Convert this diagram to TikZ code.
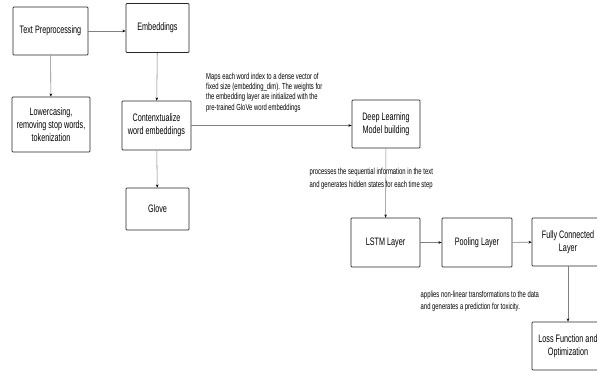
\documentclass[tikz,border=0pt]{standalone}
\usepackage{fontspec}
\setmainfont{Liberation Sans}[FakeStretch=0.67]
\usetikzlibrary{arrows.meta}
\begin{document}
\begin{tikzpicture}[x=1pt,y=-1pt,
  box/.style={draw=black!85,line width=0.75pt,rounded corners=0.8pt,align=center,inner sep=1pt,font=\fontsize{10.8}{13}\selectfont},
  conn/.style={draw=black!50,line width=0.55pt,-{Stealth[length=3.2pt,width=2.6pt,color=black]}},
  lbl/.style={align=left,inner sep=0pt,anchor=west}]
\useasboundingbox (0,0) rectangle (597,370);
\node[box,minimum width=75pt,minimum height=48pt] (tp) at (50.5,31) {Text Preprocessing};
\node[box,minimum width=63pt,minimum height=49pt] (emb) at (157.5,28) {Embeddings};
\node[box,minimum width=78pt,minimum height=55pt] (low) at (51,124.5) {Lowercasing,\\removing stop words,\\tokenization};
\node[box,minimum width=69pt,minimum height=49pt] (ctx) at (156.5,125.5) {Contenxtualize\\word embeddings};
\node[box,minimum width=63pt,minimum height=42pt] (glove) at (157.5,209) {Glove};
\node[box,minimum width=68pt,minimum height=48pt] (dl) at (386,124) {Deep Learning\\Model building};
\node[box,minimum width=69pt,minimum height=49pt] (lstm) at (385.5,242.5) {LSTM Layer};
\node[box,minimum width=70pt,minimum height=49pt] (pool) at (477,242.5) {Pooling Layer};
\node[box,minimum width=72pt,minimum height=48pt] (fc) at (568,242) {Fully Connected\\Layer};
\node[box,minimum width=72pt,minimum height=48pt] (loss) at (568,346) {Loss Function and\\Optimization};
\draw[conn] (tp.east|-0,31) -- (emb.west|-0,31);
\draw[conn] (tp) -- (low);
\draw[conn] (emb) -- (ctx);
\draw[conn] (ctx) -- (glove);
\draw[conn] (ctx.east) -- (dl.west|-ctx.east);
\draw[conn] (dl) -- (lstm);
\draw[conn] (lstm) -- (pool);
\draw[conn] (pool) -- (fc);
\draw[conn] (fc) -- (loss);
\node[lbl,font=\fontsize{8.8}{10.3}\selectfont] (l1) at (206,92.5) {Maps each word index to a dense vector of\\fixed size (embedding\_dim). The weights for\\the embedding layer are initialized with the\\pre-trained GloVe word embeddings};
\node[lbl,font=\fontsize{8.8}{12.8}\selectfont] (l2) at (309.5,178.5) {processes the sequential information in the text\\and generates hidden states for each time step};
\node[lbl,font=\fontsize{8.8}{12}\selectfont] (l3) at (420.5,301) {applies non-linear transformations to the data\\and generates a prediction for toxicity.};
\end{tikzpicture}
\end{document}
